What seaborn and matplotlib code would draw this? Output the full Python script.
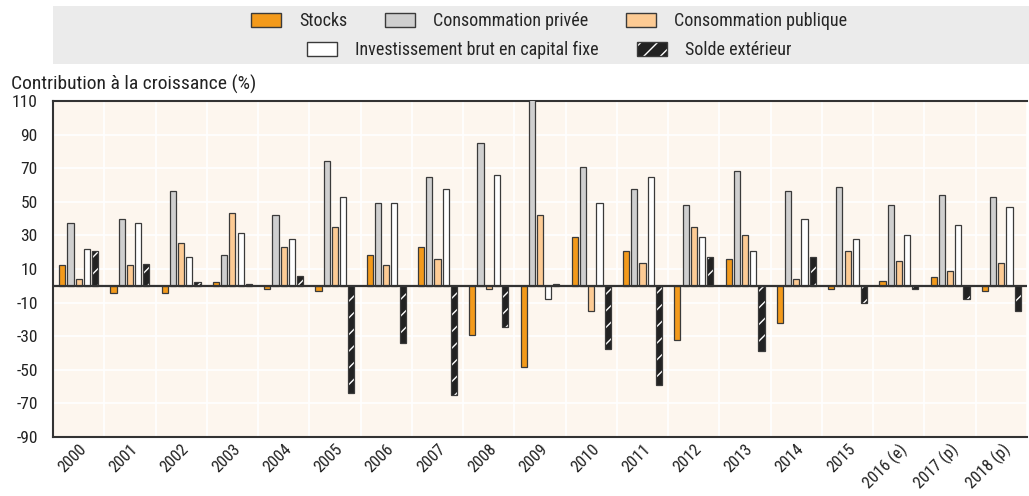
import numpy as np
import pandas as pd
import matplotlib
matplotlib.use("Agg")
import matplotlib.pyplot as plt
import matplotlib.patches as mpatches
import matplotlib.colors as mcolors
import seaborn as sns

# ---- données ----
years = ['2000', '2001', '2002', '2003', '2004', '2005', '2006', '2007', '2008', '2009',
         '2010', '2011', '2012', '2013', '2014', '2015', '2016 (e)', '2017 (p)', '2018 (p)']
series = ['Stocks', 'Consommation privée', 'Consommation publique',
          'Investissement brut en capital fixe', 'Solde extérieur']

stocks = [12.5, -4.2, -4.2, 2.0, -2.0, -3.0, 18.5, 23.2, -29.2, -48.2,
          29.2, 20.6, -32.5, 15.9, -22.0, -1.8, 2.8, 5.2, -3.0]
conso_privee = [37.3, 40.0, 56.5, 18.5, 42.0, 74.2, 49.2, 64.7, 84.9, 112.0,
                70.6, 57.5, 48.0, 68.3, 56.3, 58.7, 48.0, 54.0, 52.8]
conso_publique = [4.2, 12.5, 25.6, 43.3, 23.0, 35.1, 12.5, 15.9, -2.0, 42.0,
                  -14.9, 13.5, 35.1, 30.2, 4.0, 20.6, 14.7, 8.9, 13.7]
investissement = [22.0, 37.3, 17.3, 31.3, 27.8, 52.8, 49.2, 57.5, 65.9, -7.9,
                  49.2, 64.7, 29.2, 20.8, 39.9, 28.0, 30.2, 36.1, 46.8]
solde = [21.0, 12.7, 2.0, 0.8, 5.6, -63.9, -34.1, -64.9, -24.6, 0.8,
         -37.7, -58.9, 17.3, -38.7, 17.3, -10.3, -2.0, -7.9, -15.1]

colors = ['#F39A1B', '#CFCFCF', '#FDCB94', '#FFFFFF', '#222222']
edge = '#3A3A3A'

df = pd.DataFrame({
    'annee': years * 5,
    'serie': np.repeat(series, len(years)),
    'valeur': stocks + conso_privee + conso_publique + investissement + solde,
})

# ---- style ----
sns.set_style('white')
plt.rcParams['font.family'] = ['Roboto Condensed', 'Archivo Narrow', 'DejaVu Sans']
plt.rcParams['axes.unicode_minus'] = False
plt.rcParams['hatch.linewidth'] = 1.0

fig = plt.figure(figsize=(10.29, 4.96), dpi=100)
ax = fig.add_axes([53 / 1029, 1 - 437 / 496, 974 / 1029, 336 / 496])
ax.set_facecolor('#FDF6EE')

sns.barplot(data=df, x='annee', y='valeur', hue='serie', hue_order=series,
            palette=colors, saturation=1, width=0.8, gap=0.25, edgecolor=edge,
            linewidth=0.9, legend=False, errorbar=None, ax=ax, zorder=3)

# hachures blanches sur le solde extérieur
for p in ax.containers[-1]:
    p.set_hatch('//')
    p._hatch_color = mcolors.to_rgba('white')

ax.set_ylim(-90, 110)
ax.set_xlim(-0.5, len(years) - 0.5)
ax.set_yticks(np.arange(-90, 111, 20))
ax.set_xticks(np.arange(-0.5, len(years), 1), minor=True)
ax.grid(axis='y', which='major', color='white', linewidth=1.2, zorder=0)
ax.grid(axis='x', which='minor', color='white', linewidth=1.2, zorder=0)
ax.set_axisbelow(True)
ax.axhline(0, color='#333333', linewidth=1.6, zorder=4)

ax.set_xlabel('')
ax.set_ylabel('')
ax.tick_params(axis='y', length=0, labelsize=12.5, colors='#222222', pad=11)
ax.tick_params(axis='x', which='major', length=0, labelsize=12, colors='#222222',
               rotation=45, pad=3)
ax.tick_params(axis='x', which='minor', length=4, direction='in', color='#555555')
for lab in ax.get_xticklabels():
    lab.set_ha('right')
    lab.set_rotation_mode('anchor')

for s in ['left', 'bottom', 'top']:
    ax.spines[s].set_color('#333333')
    ax.spines[s].set_linewidth(1.5)
ax.spines['right'].set_visible(False)

fig.text(11 / 1029, 1 - 84 / 496, 'Contribution à la croissance (%)', fontsize=14,
         color='#222222', va='center', ha='left')

# ---- légende (bandeau gris, deux lignes) ----
fig.add_artist(mpatches.Rectangle((53 / 1029, 1 - 64 / 496), 976 / 1029, 58 / 496,
                                  transform=fig.transFigure, facecolor='#EBEBEB',
                                  edgecolor='none', zorder=0))

handles = []
for name, c in zip(series, colors):
    h = mpatches.Patch(facecolor=c, edgecolor=edge, linewidth=1.0, label=name)
    if name == 'Solde extérieur':
        h.set_hatch('//')
        h._hatch_color = mcolors.to_rgba('white')
    handles.append(h)

leg_kw = dict(frameon=False, fontsize=13, handlelength=1.66, handleheight=0.78,
              handletextpad=1.0, columnspacing=2.1, borderaxespad=0, borderpad=0)
leg1 = fig.legend(handles=handles[:3], ncol=3, loc='center left',
                  bbox_to_anchor=(251 / 1029, 1 - 21 / 496), **leg_kw)
leg2 = fig.legend(handles=handles[3:], ncol=2, loc='center left',
                  bbox_to_anchor=(307 / 1029, 1 - 50 / 496), **leg_kw)

fig.savefig('out.png', dpi=100)
